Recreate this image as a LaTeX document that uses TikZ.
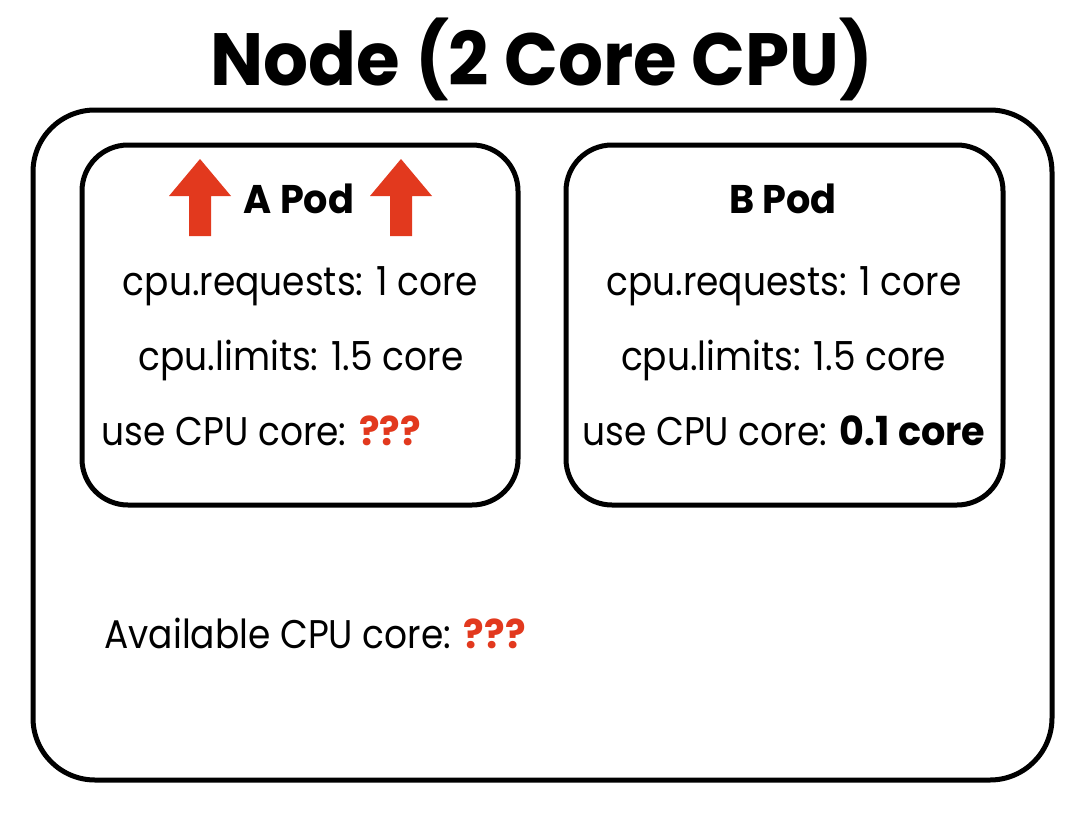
\documentclass[tikz,border=0pt]{standalone}
\usepackage{fontspec}
\setmainfont{Poppins}
\newfontfamily\regfont[FakeStretch=0.90]{Poppins}
\newfontfamily\boldfont[FakeStretch=0.955]{Poppins}
\definecolor{alert}{RGB}{226,57,30}
\begin{document}
\begin{tikzpicture}[x=1pt,y=-1pt,
  box/.style={draw=black,line width=5pt,fill=none,inner sep=0pt},
  label/.style={anchor=base,inner sep=0pt,font=\fontsize{40}{48}\regfont},
  head/.style={anchor=base,inner sep=0pt,font=\fontsize{40}{48}\boldfont\bfseries},
  uparrow/.style={fill=alert,draw=none}]
\useasboundingbox (0,0) rectangle (1090,816);
\node[anchor=base,inner sep=0pt,font=\fontsize{74}{80}\boldfont\bfseries] (title) at (542,85) {Node (2 Core CPU)};
\node[box,rounded corners=62pt,minimum width=1019pt,minimum height=670pt] (outer) at (542.5,445) {};
\node[box,rounded corners=46pt,minimum width=436pt,minimum height=360pt] (apod) at (300,325) {};
\node[box,rounded corners=46pt,minimum width=437pt,minimum height=360pt] (bpod) at (784.5,325) {};
% A pod
\node[head] (atitle) at (299,213) {A Pod};
\fill[uparrow] (189,236) -- (189,196) -- (169,196) -- (200,159) -- (231,196) -- (211,196) -- (211,236) -- cycle;
\fill[uparrow] (390,236) -- (390,196) -- (370,196) -- (401,159) -- (432,196) -- (412,196) -- (412,236) -- cycle;
\node[label] (areq) at (300.5,295) {cpu.requests: 1 core};
\node[label] (alim) at (301,370) {cpu.limits: 1.5 core};
\node[label] (ause) at (261.5,445) {use CPU core: \textcolor{alert}{\boldfont\bfseries ???}};
% B pod
\node[head] (btitle) at (783,213) {B Pod};
\node[label] (breq) at (784,295) {cpu.requests: 1 core};
\node[label] (blim) at (783.5,370) {cpu.limits: 1.5 core};
\node[label] (buse) at (784,445) {use CPU core: {\boldfont\bfseries 0.1 core}};
% available
\node[label] (avail) at (315,648) {Available CPU core: \textcolor{alert}{\boldfont\bfseries ???}};
\end{tikzpicture}
\end{document}
